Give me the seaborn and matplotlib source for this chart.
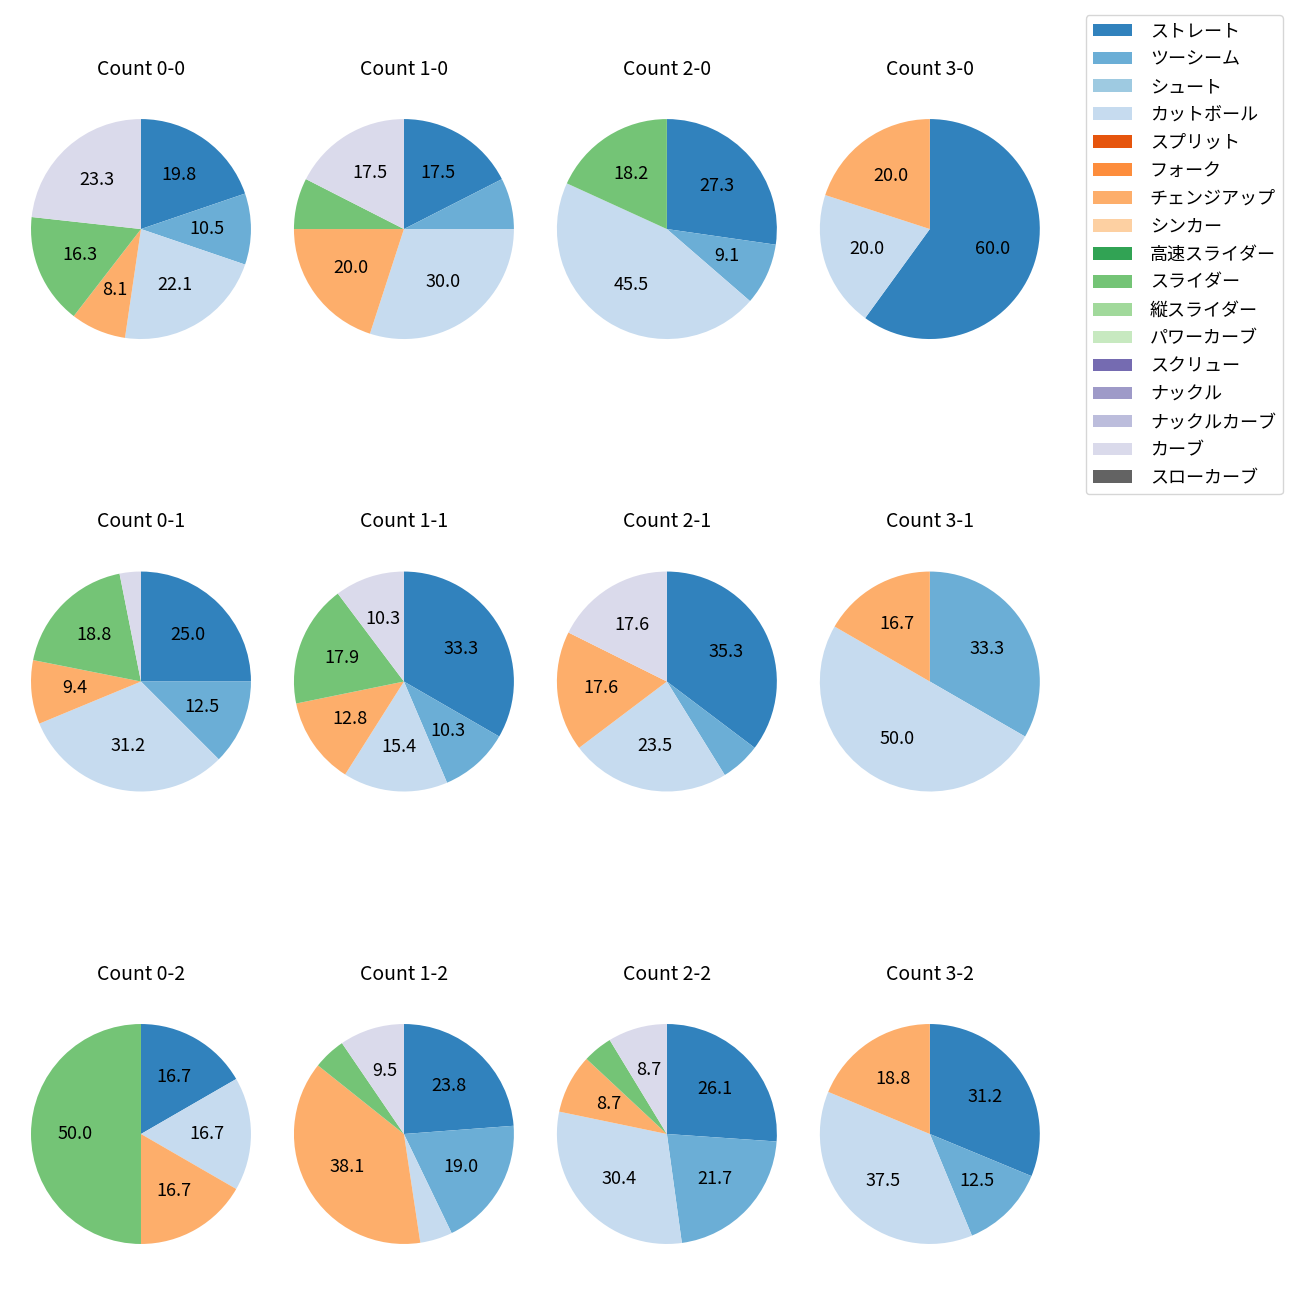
import matplotlib
matplotlib.use("Agg")
import matplotlib.pyplot as plt
from matplotlib.patches import Patch
import seaborn as sns

plt.rcParams['font.family'] = ['Noto Sans CJK JP', 'DejaVu Sans']

pitch_types = ["ストレート", "ツーシーム", "シュート", "カットボール", "スプリット", "フォーク",
               "チェンジアップ", "シンカー", "高速スライダー", "スライダー", "縦スライダー",
               "パワーカーブ", "スクリュー", "ナックル", "ナックルカーブ", "カーブ", "スローカーブ"]

count_labels = ["0-0", "1-0", "2-0", "3-0",
                "0-1", "1-1", "2-1", "3-1",
                "0-2", "1-2", "2-2", "3-2"]

#            St Tw Sh Ct Sp Fk Ch Sk HS Sl VS PC Sc Kn KC Cv SC
c_0_0 = [17, 9, 0, 19, 0, 0, 7, 0, 0, 14, 0, 0, 0, 0, 0, 20, 0]
c_1_0 = [7, 3, 0, 12, 0, 0, 8, 0, 0, 3, 0, 0, 0, 0, 0, 7, 0]
c_2_0 = [3, 1, 0, 5, 0, 0, 0, 0, 0, 2, 0, 0, 0, 0, 0, 0, 0]
c_3_0 = [3, 0, 0, 1, 0, 0, 1, 0, 0, 0, 0, 0, 0, 0, 0, 0, 0]
c_0_1 = [8, 4, 0, 10, 0, 0, 3, 0, 0, 6, 0, 0, 0, 0, 0, 1, 0]
c_1_1 = [13, 4, 0, 6, 0, 0, 5, 0, 0, 7, 0, 0, 0, 0, 0, 4, 0]
c_2_1 = [6, 1, 0, 4, 0, 0, 3, 0, 0, 0, 0, 0, 0, 0, 0, 3, 0]
c_3_1 = [0, 2, 0, 3, 0, 0, 1, 0, 0, 0, 0, 0, 0, 0, 0, 0, 0]
c_0_2 = [1, 0, 0, 1, 0, 0, 1, 0, 0, 3, 0, 0, 0, 0, 0, 0, 0]
c_1_2 = [5, 4, 0, 1, 0, 0, 8, 0, 0, 1, 0, 0, 0, 0, 0, 2, 0]
c_2_2 = [6, 5, 0, 7, 0, 0, 2, 0, 0, 1, 0, 0, 0, 0, 0, 2, 0]
c_3_2 = [5, 2, 0, 6, 0, 0, 3, 0, 0, 0, 0, 0, 0, 0, 0, 0, 0]

all_counts = [c_0_0, c_1_0, c_2_0, c_3_0,
              c_0_1, c_1_1, c_2_1, c_3_1,
              c_0_2, c_1_2, c_2_2, c_3_2]

palette = sns.color_palette("tab20c", 20)[:len(pitch_types)]

fig, axes = plt.subplots(3, 4, figsize=(13, 13), dpi=100)
fig.subplots_adjust(left=0.0027, right=0.821, top=0.9296, bottom=0.0219,
                    wspace=-0.0436, hspace=0.645)


def fmt(p):
    return f"{p:.1f}" if p >= 8 else ""


for ax, lab, vals in zip(axes.flat, count_labels, all_counts):
    v = [x for x in vals if x > 0]
    cols = [palette[i] for i, x in enumerate(vals) if x > 0]
    ax.pie(v, colors=cols, startangle=90, counterclock=False, autopct=fmt,
           textprops={'fontsize': 13}, wedgeprops={'linewidth': 0})
    ax.set_title(f"Count {lab}", fontsize=14, pad=12)

handles = [Patch(facecolor=palette[i], label=pitch_types[i]) for i in range(len(pitch_types))]
fig.legend(handles=handles, loc="upper right", bbox_to_anchor=(1283 / 1300, 1 - 15 / 1300),
           borderaxespad=0, fontsize=13, handlelength=2.15, handletextpad=1.0,
           labelspacing=0.55, frameon=True)

fig.savefig("out.png", dpi=100)
